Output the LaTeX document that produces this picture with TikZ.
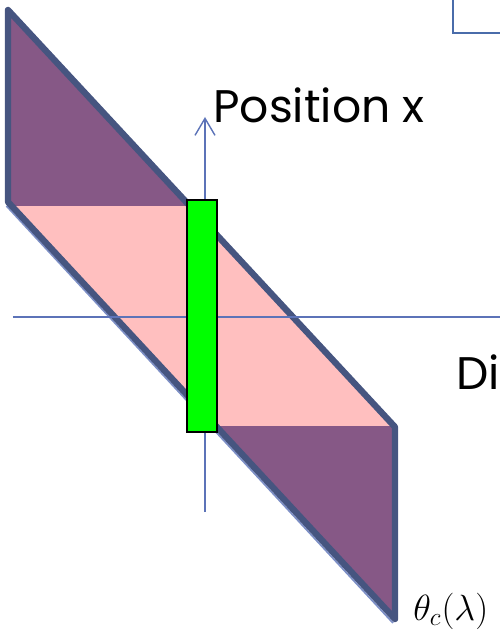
\documentclass[tikz,border=0pt]{standalone}
\usepackage{fontspec}
\setsansfont{Poppins}
\usepackage{tikz}
\usetikzlibrary{arrows.meta}
\definecolor{bandpurple}{RGB}{134,88,134}
\definecolor{bandpink}{RGB}{255,191,191}
\definecolor{edgeblue}{RGB}{70,85,128}
\definecolor{axisblue}{RGB}{92,115,184}
\definecolor{boxblue}{RGB}{74,108,170}
\definecolor{slitgreen}{RGB}{0,255,0}
\tikzset{
  axislabel/.style={anchor=base west,inner sep=0pt,font=\sffamily\fontsize{26}{30}\selectfont},
}

\begin{document}
\begin{tikzpicture}[>={Straight Barb[length=0.34cm,width=0.4cm]}]
  \useasboundingbox (-4.1,-6.36) rectangle (5.9,6.34);
  \fill[bandpurple] (-3.94,6.14)--(3.8,-2.2)--(3.8,-6.04)--(-3.94,2.3)--cycle;
  \begin{scope}
    \clip (-4.1,-2.16) rectangle (5.9,2.2);
    \fill[bandpink] (-3.94,6.14)--(3.8,-2.2)--(3.8,-6.04)--(-3.94,2.3)--cycle;
  \end{scope}
  \draw[axisblue!80,line width=1pt] (-3.97,2.22)--(3.76,-6.12);
  \draw[edgeblue,line width=3.6pt,line join=round] (-3.94,6.14)--(3.8,-2.2)--(3.8,-6.04)--(-3.94,2.3)--cycle;
  \draw[axisblue,line width=0.8pt] (-3.84,0)--(5.9,0);
  \draw[axisblue,line width=0.8pt,->] (0,-3.9)--(0,4.0);
  \node[draw=black,fill=slitgreen,line width=0.7pt,minimum width=0.6cm,minimum height=4.64cm,inner sep=0pt] (slit) at (-0.06,0.02) {};
  \draw[boxblue,line width=1.1pt] (4.96,6.5)--(4.96,5.68)--(6,5.68);
  \node[axislabel] (posx) at (0.16,3.88) {Position x};
  \node[axislabel] (dirx) at (5.02,-1.46) {Di};
  \node[anchor=base west,inner sep=0pt,font=\fontsize{22}{25}\selectfont] (thetac) at (4.16,-6.06) {$\theta_c(\lambda)$};
\end{tikzpicture}
\end{document}
